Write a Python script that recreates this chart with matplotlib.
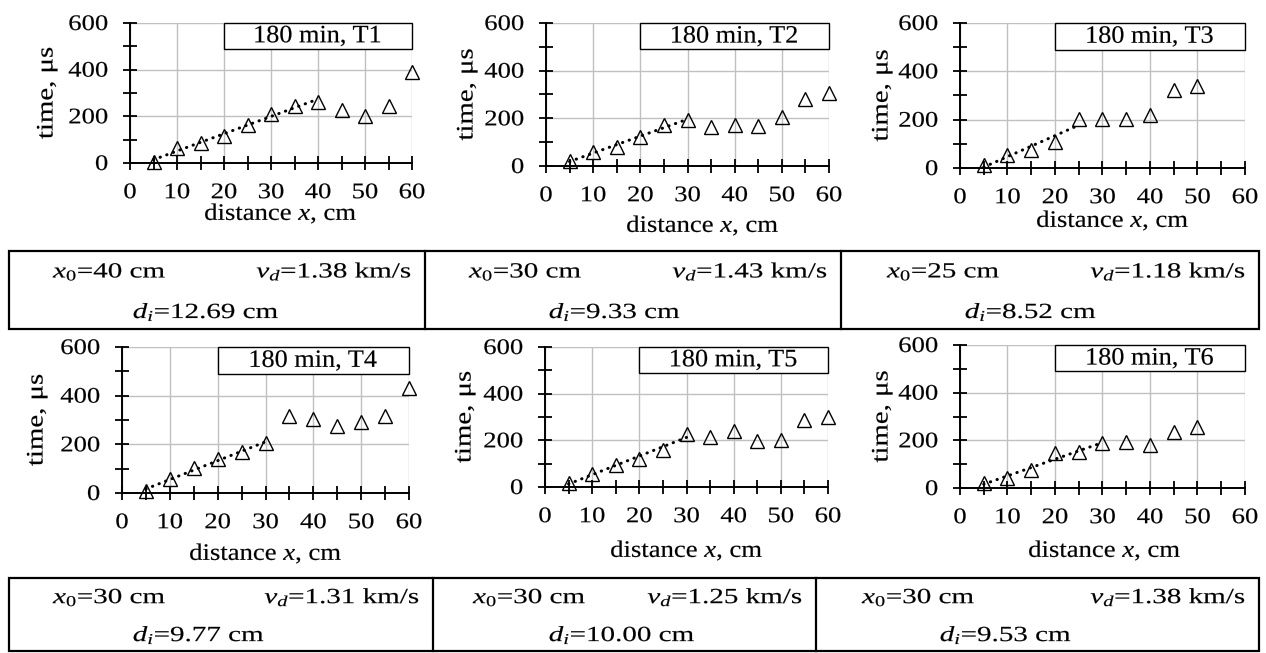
import numpy as np
import matplotlib
matplotlib.use("Agg")
import matplotlib.pyplot as plt
from matplotlib.patches import Rectangle
from matplotlib.ticker import MultipleLocator
from matplotlib.patheffects import AbstractPathEffect
from matplotlib.transforms import Affine2D

plt.rcParams['font.family'] = ['Liberation Serif', 'DejaVu Serif']
plt.rcParams['mathtext.fontset'] = 'custom'
plt.rcParams['mathtext.rm'] = 'Liberation Serif'
plt.rcParams['mathtext.it'] = 'Liberation Serif:italic'

# ---------------- data ----------------
x_full = [5, 10, 15, 20, 25, 30, 35, 40, 45, 50, 55, 60]
x_short = [5, 10, 15, 20, 25, 30, 35, 40, 45, 50]

t1 = [5, 64, 86, 117, 164, 210, 246, 260, 229, 200, 246, 389]
t2 = [20, 59, 80, 122, 171, 193, 164, 171, 167, 204, 281, 308]
t3 = [11, 55, 76, 109, 201, 204, 202, 218, 321, 338]
t4 = [7, 59, 102, 140, 168, 205, 317, 305, 277, 293, 317, 430]
t5 = [17, 56, 94, 120, 160, 229, 216, 240, 199, 200, 286, 301]
t6 = [20, 42, 77, 145, 149, 187, 193, 180, 233, 255]

titles = ["180 min, T1", "180 min, T2", "180 min, T3",
          "180 min, T4", "180 min, T5", "180 min, T6"]
x0_vals = [40, 30, 25, 30, 30, 30]
vd_vals = ["1.38", "1.43", "1.18", "1.31", "1.25", "1.38"]
di_vals = ["12.69", "9.33", "8.52", "9.77", "10.00", "9.53"]

xs = [x_full, x_full, x_short, x_full, x_full, x_short]
ts = [t1, t2, t3, t4, t5, t6]


class Stretch(AbstractPathEffect):
    """Stretch a text path along one direction (the reference font is wide)."""
    def __init__(self, s, anchor='center', vertical=False, weight=0.12):
        super().__init__()
        self.s = s
        self.anchor = anchor
        self.vertical = vertical
        self.weight = weight

    def draw_path(self, renderer, gc, tpath, affine, rgbFace=None):
        ext = tpath.get_extents(affine)
        if self.vertical:
            a = {'left': ext.y0, 'right': ext.y1, 'center': (ext.y0 + ext.y1) / 2}[self.anchor]
            extra = Affine2D().translate(0, -a).scale(1, self.s).translate(0, a)
        else:
            a = {'left': ext.x0, 'right': ext.x1, 'center': (ext.x0 + ext.x1) / 2}[self.anchor]
            extra = Affine2D().translate(-a, 0).scale(self.s, 1).translate(a, 0)
        gc0 = renderer.new_gc()
        gc0.copy_properties(gc)
        gc0.set_linewidth(self.weight)
        gc0.set_joinstyle('round')
        renderer.draw_path(gc0, tpath, affine + extra, rgbFace)
        gc0.restore()


# ---------------- layout (pixels) ----------------
W, H = 1266, 653
fig = plt.figure(figsize=(W / 100, H / 100), dpi=100)

# left, right, top(600), bottom(0)
boxes = [(130, 412, 23, 163), (546, 829, 23, 166), (960, 1245, 23, 168),
         (122, 409, 347, 493), (545, 828, 347, 487), (960, 1245, 345, 488)]
ylab_x = [47, 467, 882, 37, 465, 882]
xlab_pos = [(281, 214), (703, 226), (1113, 221), (266, 554), (687, 551), (1105, 551)]

TICK_FS = 16
TICK_S = 1.2
LAB_FS = 17
LAB_S = 1.13
YLAB_FS = 17
YLAB_S = 1.22
TITLE_FS = 18
TITLE_S = 1.05
TAB_FS = 15.5
TAB_S = 1.35

overlay = fig.add_axes([0, 0, 1, 1], zorder=-1)
overlay.set_xlim(0, W)
overlay.set_ylim(H, 0)
overlay.axis('off')

axes = []
for i in range(6):
    l, r, t, b = boxes[i]
    ax = fig.add_axes([l / W, 1 - b / H, (r - l) / W, (b - t) / H])
    axes.append(ax)
    ax.set_xlim(0, 60)
    ax.set_ylim(0, 600)
    ax.patch.set_alpha(0)
    for s in ['top', 'right']:
        ax.spines[s].set_visible(False)
    for s in ['left', 'bottom']:
        ax.spines[s].set_linewidth(1.4)
        ax.spines[s].set_zorder(4)
    ax.xaxis.set_major_locator(MultipleLocator(10))
    ax.xaxis.set_minor_locator(MultipleLocator(5))
    ax.yaxis.set_major_locator(MultipleLocator(200))
    ax.yaxis.set_minor_locator(MultipleLocator(100))
    ax.grid(which='major', color='#c0c0c0', lw=1.0, zorder=0)
    ax.set_axisbelow(True)
    ax.tick_params(which='both', direction='inout', length=9.5, width=1.3,
                   top=False, right=False)
    ax.tick_params(axis='y', labelsize=TICK_FS, pad=11)
    ax.tick_params(axis='x', labelsize=TICK_FS, pad=10.5)

    x = np.array(xs[i], dtype=float)
    y = np.array(ts[i], dtype=float)
    ax.plot(x, y, linestyle='none', marker='^', ms=10.5, mfc='none',
            mec='black', mew=1.0, clip_on=False, zorder=3)

    sel = x <= x0_vals[i]
    k, c = np.polyfit(x[sel], y[sel], 1)
    xl = np.array([x[sel][0], x0_vals[i]])
    ax.plot(xl, k * xl + c, color='black', lw=2.2,
            linestyle=(0, (0.1, 2.2)), dash_capstyle='round', zorder=3)

    # title box
    ax.add_patch(Rectangle((1 / 3, 0.815), 2 / 3, 0.185, transform=ax.transAxes,
                           fill=True, facecolor='white', edgecolor='black',
                           lw=1.0, clip_on=False, zorder=5))
    ax.text(0.665, 0.905, titles[i], transform=ax.transAxes, ha='center',
            va='center', fontsize=TITLE_FS, zorder=6,
            path_effects=[Stretch(TITLE_S)])

    # axis labels
    overlay.text(ylab_x[i], (t + b) / 2, "time, μs", rotation=90,
                 ha='center', va='center', fontsize=YLAB_FS,
                 path_effects=[Stretch(YLAB_S, vertical=True)])
    overlay.text(xlab_pos[i][0], xlab_pos[i][1], "distance $x$, cm",
                 ha='center', va='center', fontsize=LAB_FS,
                 path_effects=[Stretch(LAB_S)])

# ---------------- parameter tables ----------------
rows = [(251, 329, [9, 425, 841, 1259], [44, 44, 46], [124, 124, 124]),
        (578, 651, [9, 433, 816, 1259], [44, 40, 46], [124, 116, 124])]
for ri, (top, bot, edges, x0off, dioff) in enumerate(rows):
    overlay.add_patch(Rectangle((edges[0], top), edges[-1] - edges[0], bot - top,
                                fill=False, edgecolor='black', lw=1.6))
    for e in edges[1:-1]:
        overlay.plot([e, e], [top, bot], color='black', lw=1.6)
    for ci in range(3):
        idx = ri * 3 + ci
        cl, cr = edges[ci], edges[ci + 1]
        y1 = top + 0.27 * (bot - top)
        y2 = top + 0.79 * (bot - top)
        overlay.text(cl + x0off[ci], y1, r"$x_{\mathit{0}}$" + f"={x0_vals[idx]} cm",
                     ha='left', va='center', fontsize=TAB_FS,
                     path_effects=[Stretch(TAB_S, 'left')])
        overlay.text(cr - 13, y1, r"$v_d$" + f"={vd_vals[idx]} km/s",
                     ha='right', va='center', fontsize=TAB_FS,
                     path_effects=[Stretch(TAB_S, 'right')])
        overlay.text(cl + dioff[ci], y2, r"$d_i$" + f"={di_vals[idx]} cm",
                     ha='left', va='center', fontsize=TAB_FS,
                     path_effects=[Stretch(TAB_S, 'left')])

fig.canvas.draw()
for ax in axes:
    for lbl in ax.get_xticklabels():
        lbl.set_path_effects([Stretch(TICK_S)])
    for lbl in ax.get_yticklabels():
        lbl.set_path_effects([Stretch(TICK_S, 'right')])

fig.savefig("out.png", dpi=100)
